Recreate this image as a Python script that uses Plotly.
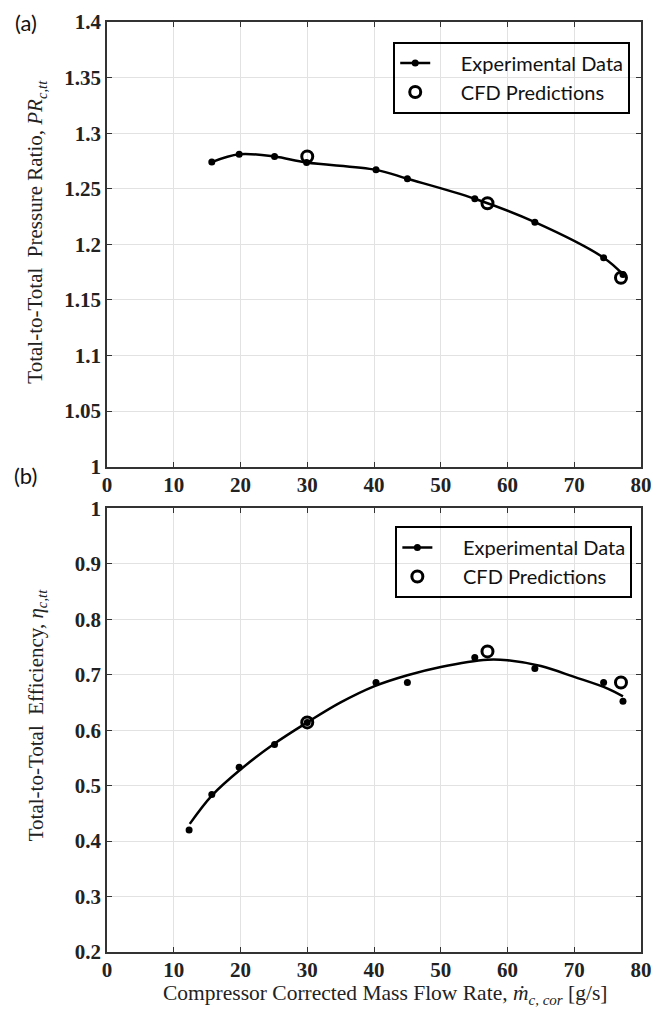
import plotly.graph_objects as go

# ---------------- data ----------------
x_exp_pr = [15.7, 19.8, 25.1, 29.9, 40.3, 45.0, 55.1, 64.1, 74.4, 77.3]
pr_exp = [1.274, 1.281, 1.279, 1.2736, 1.267, 1.259, 1.241, 1.220, 1.188, 1.173]
x_cfd = [30.0, 57.0, 77.0]
pr_cfd = [1.279, 1.237, 1.170]

x_exp_eff = [12.3, 15.7, 19.8, 25.1, 30.0, 40.3, 45.0, 55.1, 64.1, 74.4, 77.3]
eff_exp = [0.420, 0.484, 0.533, 0.574, 0.614, 0.686, 0.686, 0.731, 0.711, 0.686, 0.652]
eff_cfd = [0.614, 0.742, 0.686]

# fitted efficiency curve
x_fit = [12.4, 15.7, 20, 25, 30, 35, 40, 45, 50, 57, 60, 65, 70, 75, 77.3]
eff_fit = [0.431, 0.482, 0.529, 0.575, 0.614, 0.650, 0.679, 0.699, 0.714,
           0.727, 0.726, 0.7155, 0.696, 0.675, 0.661]

x_ticks = [0, 10, 20, 30, 40, 50, 60, 70, 80]
x_ticktext = ["0", "10", "20", "30", "40", "50", "60", "70", "80"]
pr_ticks = [1.0, 1.05, 1.1, 1.15, 1.2, 1.25, 1.3, 1.35, 1.4]
pr_ticktext = ["1", "1.05", "1.1", "1.15", "1.2", "1.25", "1.3", "1.35", "1.4"]
eff_ticks = [0.2, 0.3, 0.4, 0.5, 0.6, 0.7, 0.8, 0.9, 1.0]
eff_ticktext = ["0.2", "0.3", "0.4", "0.5", "0.6", "0.7", "0.8", "0.9", "1"]

NAME_EXP = "\u00a0\u00a0\u00a0\u00a0\u00a0Experimental Data"
NAME_CFD = "\u00a0\u00a0\u00a0\u00a0\u00a0CFD Predictions"

# ---------------- figure ----------------
fig = go.Figure()
BLACK = "black"

# top panel
fig.add_trace(go.Scatter(
    x=x_exp_pr, y=pr_exp, mode="lines+markers", name=NAME_EXP,
    line=dict(color=BLACK, width=2.5, shape="spline", smoothing=1),
    marker=dict(symbol="circle", size=7, color=BLACK),
    xaxis="x", yaxis="y", legend="legend", cliponaxis=False))
fig.add_trace(go.Scatter(
    x=x_cfd, y=pr_cfd, mode="markers", name=NAME_CFD,
    marker=dict(symbol="circle-open", size=11, color=BLACK, line=dict(width=3, color=BLACK)),
    xaxis="x", yaxis="y", legend="legend", cliponaxis=False))

# bottom panel
fig.add_trace(go.Scatter(
    x=x_fit, y=eff_fit, mode="lines", showlegend=False,
    line=dict(color=BLACK, width=2.5, shape="spline", smoothing=1),
    xaxis="x2", yaxis="y2"))
fig.add_trace(go.Scatter(
    x=x_exp_eff, y=eff_exp, mode="markers", showlegend=False,
    marker=dict(symbol="circle", size=7, color=BLACK),
    xaxis="x2", yaxis="y2", cliponaxis=False))
fig.add_trace(go.Scatter(
    x=[None], y=[None], mode="lines+markers", name=NAME_EXP,
    line=dict(color=BLACK, width=2.5),
    marker=dict(symbol="circle", size=7, color=BLACK),
    xaxis="x2", yaxis="y2", legend="legend2"))
fig.add_trace(go.Scatter(
    x=x_cfd, y=eff_cfd, mode="markers", name=NAME_CFD,
    marker=dict(symbol="circle-open", size=11, color=BLACK, line=dict(width=3, color=BLACK)),
    xaxis="x2", yaxis="y2", legend="legend2", cliponaxis=False))

tickfont = dict(family="Liberation Serif", size=21, color="#222", weight="bold")
axis_common = dict(
    showline=True, linecolor="#333", linewidth=1.5, mirror="ticks",
    ticks="inside", ticklen=5, tickcolor="#333", tickwidth=1,
    showgrid=True, gridcolor="#e2e2e2", gridwidth=1, zeroline=False,
    tickfont=tickfont,
)

legend_common = dict(
    bgcolor="rgba(0,0,0,0)", bordercolor="black", borderwidth=2,
    font=dict(family="Lato", size=20, color="#111"),
    xanchor="left", yanchor="top", tracegroupgap=0,
)

fig.update_layout(
    width=662, height=1010,
    margin=dict(l=107, r=10, t=22, b=58),
    paper_bgcolor="white", plot_bgcolor="white",
    xaxis=dict(domain=[0, 1], range=[0, 80], anchor="y", ticklabelstandoff=-2,
               tickvals=x_ticks, ticktext=x_ticktext, **axis_common),
    yaxis=dict(domain=[0.5218, 1], range=[1, 1.4], anchor="x",
               tickvals=pr_ticks, ticktext=pr_ticktext, **axis_common),
    xaxis2=dict(domain=[0, 1], range=[0, 80], anchor="y2", ticklabelstandoff=-2,
                tickvals=x_ticks, ticktext=x_ticktext, **axis_common),
    yaxis2=dict(domain=[0, 0.4771], range=[0.2, 1], anchor="x2",
                tickvals=eff_ticks, ticktext=eff_ticktext, **axis_common),
    legend=dict(x=0.536, y=0.979, **legend_common),
    legend2=dict(x=0.540, y=0.458, **legend_common),
    showlegend=True,
)

title_font = dict(family="Liberation Serif", size=21, color="#222")
fig.add_annotation(
    text="Total-to-Total  Pressure Ratio, <i>PR</i><sub><i>c,tt</i></sub>",
    xref="paper", yref="paper", x=-0.132, y=0.774, textangle=-90,
    xanchor="center", yanchor="middle", showarrow=False, font=title_font)
fig.add_annotation(
    text="Total-to-Total  Efficiency, <i>η</i><sub><i>c,tt</i></sub>",
    xref="paper", yref="paper", x=-0.132, y=0.254, textangle=-90,
    xanchor="center", yanchor="middle", showarrow=False, font=title_font)
fig.add_annotation(
    text="Compressor Corrected Mass Flow Rate, <i>ṁ</i><sub><i>c, cor</i></sub> [g/s]",
    xref="paper", yref="paper", x=0.522, y=-0.029,
    xanchor="center", yanchor="top", showarrow=False,
    font=dict(family="Liberation Serif", size=21.5, color="#222"))

panel_font = dict(family="Lato", size=22, color="#111")
fig.add_annotation(text="(a)", xref="paper", yref="paper", x=-0.152, y=1.0,
                   xanchor="center", yanchor="middle", showarrow=False, font=panel_font)
fig.add_annotation(text="(b)", xref="paper", yref="paper", x=-0.152, y=0.512,
                   xanchor="center", yanchor="middle", showarrow=False, font=panel_font)

fig.write_html("out.html")
